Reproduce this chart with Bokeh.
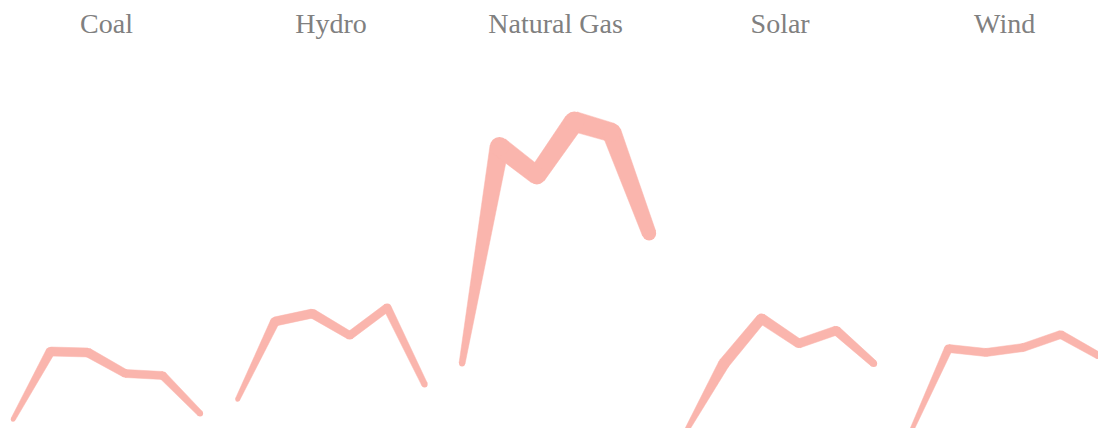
import math
from bokeh.plotting import figure
from bokeh.models import Range1d, ColumnDataSource
from bokeh.core.properties import value
from bokeh.embed import file_html
from bokeh.resources import INLINE

# ---- data ----
sources = ["Coal", "Hydro", "Natural Gas", "Solar", "Wind"]
coal = [21, 89, 88, 67, 65, 27]
hydro = [41, 119, 127, 105, 133, 56]
natural_gas = [77, 294, 265, 319, 308, 207]
solar = [10, 77, 122, 97, 110, 77]
wind = [9, 92, 88, 93, 106, 85]
# stroke thickness at each point (second encoded quantity)
coal_w = [4.5, 9, 9, 8, 8, 6]
hydro_w = [4.5, 9, 9, 8, 8, 6]
natural_gas_w = [6, 19, 18, 20, 19, 14]
solar_w = [4.5, 11, 10, 9, 9, 7]
wind_w = [4, 8, 8, 8, 8, 7]

series = [coal, hydro, natural_gas, solar, wind]
widths = [coal_w, hydro_w, natural_gas_w, solar_w, wind_w]

COLOR = "#fab5ad"
W, H = 1098, 428
SX = 37.42  # px per x unit
X0 = -12.5 / SX
Y0, Y1 = 12, 440
SY = H / (Y1 - Y0)

p = figure(width=W, height=H, output_backend="svg", toolbar_location=None,
           x_range=Range1d(X0, X0 + W / SX), y_range=Range1d(Y0, Y1),
           min_border=0, outline_line_color=None)
p.axis.visible = False
p.grid.visible = False
p.background_fill_color = "white"
p.border_fill_color = "white"

n = len(coal)
xs_poly, ys_poly = [], []
px_, py_, ps_ = [], [], []
for i, (vals, ws) in enumerate(zip(series, widths)):
    xs = [i * n + j for j in range(n)]
    for j in range(n - 1):
        ax, ay = xs[j] * SX, vals[j] * SY
        bx, by = xs[j + 1] * SX, vals[j + 1] * SY
        dx, dy = bx - ax, by - ay
        L = math.hypot(dx, dy)
        nx, ny = -dy / L, dx / L
        ha, hb = ws[j] / 2, ws[j + 1] / 2
        pts = [(ax + nx * ha, ay + ny * ha), (bx + nx * hb, by + ny * hb),
               (bx - nx * hb, by - ny * hb), (ax - nx * ha, ay - ny * ha)]
        xs_poly.append([q[0] / SX for q in pts])
        ys_poly.append([q[1] / SY for q in pts])
    px_ += xs
    py_ += vals
    ps_ += ws

p.patches(xs_poly, ys_poly, fill_color=COLOR, line_color=COLOR, line_width=0.5)
p.scatter(px_, py_, size=ps_, marker="circle", fill_color=COLOR, line_color=None)

src = ColumnDataSource(dict(x=[i * n + (n - 1) / 2 for i in range(len(sources))],
                            y=[417] * len(sources), t=sources))
p.text(x="x", y="y", text="t", source=src, text_align="center",
       text_baseline="alphabetic", text_font=value("Liberation Serif"),
       text_font_size="28px", text_color="#808080")

open("out.html", "w").write(file_html(p, INLINE))
